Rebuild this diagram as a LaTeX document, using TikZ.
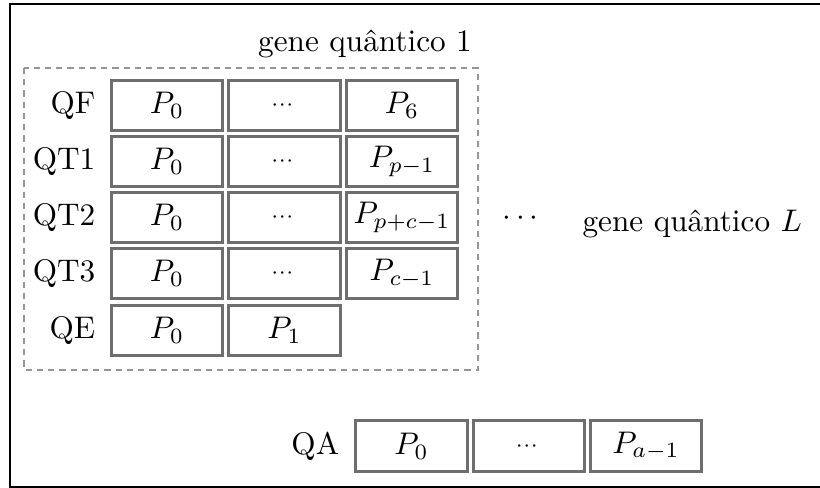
\documentclass[tikz,border=0pt]{standalone}
\usepackage{amsmath}
\usepackage{tikz}
\usepackage{xcolor}

\definecolor{cellgray}{RGB}{110,110,110}
\definecolor{dashgray}{RGB}{150,150,150}

\begin{document}
\begin{tikzpicture}[x=0.32pt, y=-0.32pt,
  cell/.style={draw=cellgray, line width=1pt, minimum width=35.7pt, minimum height=16.2pt, inner sep=0pt},
  rowlbl/.style={anchor=east, inner sep=1pt}]
  \useasboundingbox (0,0) rectangle (820,488);
  \draw[line width=0.65pt] (10,4) rectangle (822,487);

  % gene quantico 1
  \node[anchor=base] (gtitle) at (365,52) {gene quântico 1};
  \draw[dashed, dash pattern=on 2pt off 1.6pt, dashgray, line width=0.4pt] (24,68) rectangle (478,370);
  \foreach \lbl/\y/\last [count=\r] in {QF/105.5/P_6, QT1/161.5/P_{p-1}, QT2/217.5/P_{p+c-1}, QT3/273.5/P_{c-1}} {
    \node[rowlbl] (l\r) at (99,\y) {\lbl};
    \node[cell] (q\r-1) at (167,\y) {$P_0$};
    \node[cell] (q\r-2) at (284.5,\y) {$\scriptstyle\cdots$};
    \node[cell] (q\r-3) at (402,\y) {$\last$};
  }
  \node[rowlbl] (l5) at (99,330.5) {QE};
  \node[cell] (q5-1) at (167,330.5) {$P_0$};
  \node[cell] (q5-2) at (284.5,330.5) {$P_1$};

  % outros genes
  \node (gdots) at (523,219) {$\cdots$};
  \node[anchor=base west, inner sep=0pt] (glast) at (582,232) {gene quântico $L$};

  % QA
  \node[rowlbl] (la) at (343,446) {QA};
  \node[cell] (qa-1) at (411.5,446) {$P_0$};
  \node[cell] (qa-2) at (529,446) {$\scriptstyle\cdots$};
  \node[cell] (qa-3) at (646,446) {$P_{a-1}$};
\end{tikzpicture}
\end{document}
